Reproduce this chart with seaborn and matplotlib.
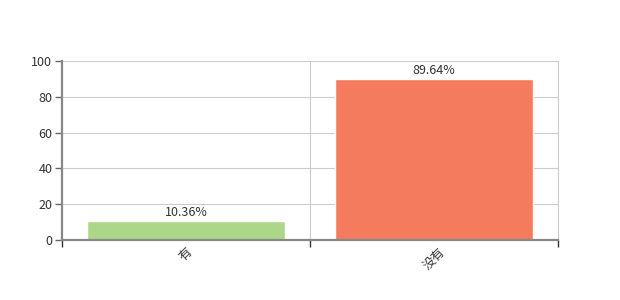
import matplotlib
matplotlib.use("Agg")
import matplotlib.pyplot as plt
import seaborn as sns
import pandas as pd

categories = ["有", "没有"]
values = [10.36, 89.64]
value_labels = ["10.36%", "89.64%"]
colors = ["#acd788", "#f47b5e"]
yticks = [0, 20, 40, 60, 80, 100]

sns.set_theme(style="white")
plt.rcParams['font.family'] = ['Noto Sans CJK SC', 'DejaVu Sans']

df = pd.DataFrame({"cat": categories, "val": values})

fig = plt.figure(figsize=(6.2, 3.0), dpi=100)
ax = fig.add_axes([0.1, 0.2, 0.8, 0.597])

sns.barplot(data=df, x="cat", y="val", hue="cat", palette=colors, width=0.8,
            legend=False, ax=ax, saturation=1)

ax.set_xlim(-0.5, len(categories) - 0.5)
ax.set_ylim(0, 100)
ax.set_yticks(yticks)
ax.set_yticklabels([str(t) for t in yticks], fontsize=9, color="#333333")
ax.set_xlabel("")
ax.set_ylabel("")

# category boundaries as minor ticks / vertical gridlines
bounds = [i - 0.5 for i in range(len(categories) + 1)]
ax.set_xticks(bounds, minor=True)
ax.set_xticks(range(len(categories)))
ax.set_xticklabels(categories, rotation=45, fontsize=9, color="#333333", ha="center")
ax.tick_params(axis="x", which="both", bottom=True)
ax.tick_params(axis="y", which="major", left=True)
ax.tick_params(axis="x", which="major", length=0, pad=4)
ax.tick_params(axis="x", which="minor", length=5, width=1, color="#333333", direction="out")
ax.tick_params(axis="y", which="major", length=5, width=1, color="#666666", direction="out", pad=2)

ax.grid(True, axis="y", color="#cccccc", linewidth=0.8)
for b in bounds[1:]:
    ax.axvline(b, color="#cccccc", linewidth=0.8, zorder=0, clip_on=False)
ax.set_axisbelow(True)

for s in ["top", "right"]:
    ax.spines[s].set_visible(False)
ax.spines["left"].set_color("#888888")
ax.spines["left"].set_linewidth(1.6)
ax.spines["bottom"].set_color("#888888")
ax.spines["bottom"].set_linewidth(1.6)

for i, (v, lab) in enumerate(zip(values, value_labels)):
    ax.annotate(lab, (i, v), xytext=(0, 2), textcoords="offset points",
                ha="center", va="bottom", fontsize=9, color="#333333")

fig.savefig("out.png", dpi=100)
